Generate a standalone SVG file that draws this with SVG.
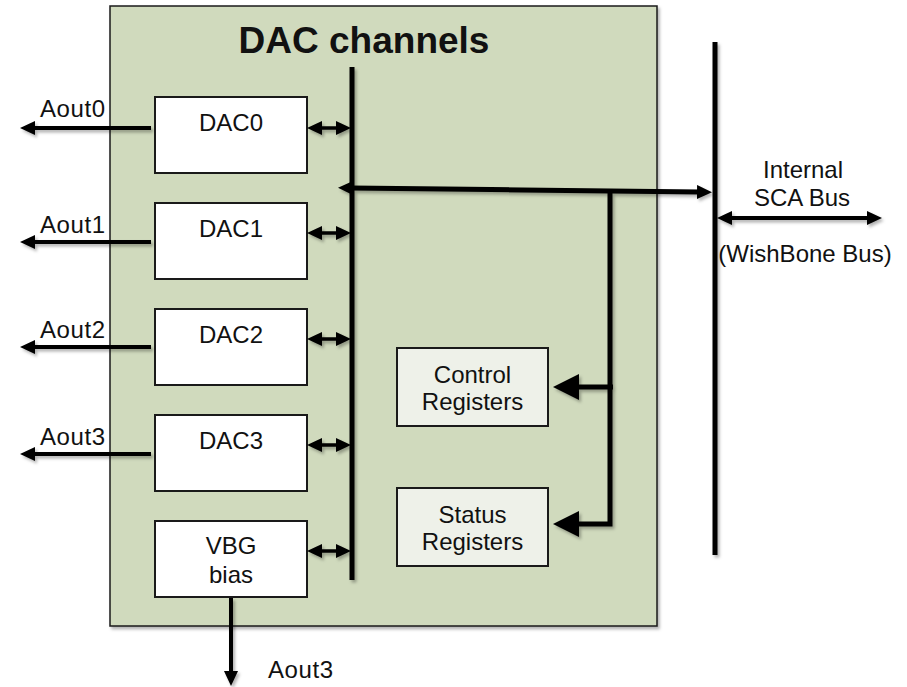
<svg xmlns="http://www.w3.org/2000/svg" width="907" height="687" viewBox="0 0 907 687">
  <defs>
    <style>
      .lbl { font-family: "Liberation Sans", Arial, sans-serif; font-size: 24px; fill: #111; }
      .mid { text-anchor: middle; }
      .title { font-family: "Liberation Sans", Arial, sans-serif; font-size: 37px; font-weight: bold; fill: #111; text-anchor: middle; }
      .dac { fill: #ffffff; stroke: #1a1a1a; stroke-width: 2; }
      .reg { fill: #eef1e9; stroke: #1a1a1a; stroke-width: 2; }
      .wire { fill: none; stroke: #000; stroke-width: 4; }
      .bus { fill: none; stroke: #000; stroke-width: 5; }
      .pair { fill: none; stroke: #000; stroke-width: 3.5; }
    </style>
    <filter id="shadow" x="-20%" y="-20%" width="140%" height="140%">
      <feDropShadow dx="2" dy="2.5" stdDeviation="1.6" flood-color="#000" flood-opacity="0.3"/>
    </filter>
    <marker id="tip" viewBox="0 0 15 14" refX="2" refY="7" markerWidth="15" markerHeight="14" markerUnits="userSpaceOnUse" orient="auto-start-reverse">
      <path d="M0,0 L15,7 L0,14 z" fill="#000"/>
    </marker>
    <marker id="tipBig" viewBox="0 0 26 26" refX="2" refY="13" markerWidth="26" markerHeight="26" markerUnits="userSpaceOnUse" orient="auto">
      <path d="M0,0 L26,13 L0,26 z" fill="#000"/>
    </marker>
  </defs>

  <rect width="907" height="687" fill="#ffffff"/>

  <!-- enclosing block -->
  <g id="dac-channels">
    <rect x="110" y="6" width="547" height="620" fill="#d0dabd" stroke="#1a1a1a" stroke-width="1.5" filter="url(#shadow)"/>
    <text class="title" x="364" y="53">DAC channels</text>
  </g>

  <!-- converters -->
  <g id="dac0">
    <rect class="dac" x="155" y="97" width="152" height="76"/>
    <text class="lbl mid" x="231" y="131">DAC0</text>
  </g>
  <g id="dac1">
    <rect class="dac" x="155" y="203" width="152" height="76"/>
    <text class="lbl mid" x="231" y="237">DAC1</text>
  </g>
  <g id="dac2">
    <rect class="dac" x="155" y="309" width="152" height="76"/>
    <text class="lbl mid" x="231" y="343">DAC2</text>
  </g>
  <g id="dac3">
    <rect class="dac" x="155" y="415" width="152" height="76"/>
    <text class="lbl mid" x="231" y="449">DAC3</text>
  </g>
  <g id="vbg-bias">
    <rect class="dac" x="155" y="521" width="152" height="76"/>
    <text class="lbl mid" x="231" y="554">VBG</text>
    <text class="lbl mid" x="231" y="583">bias</text>
  </g>

  <!-- register blocks -->
  <g id="control-registers">
    <rect class="reg" x="397" y="348" width="151" height="78"/>
    <text class="lbl mid" x="472.5" y="383">Control</text>
    <text class="lbl mid" x="472.5" y="410">Registers</text>
  </g>
  <g id="status-registers">
    <rect class="reg" x="397" y="488" width="151" height="78"/>
    <text class="lbl mid" x="472.5" y="523">Status</text>
    <text class="lbl mid" x="472.5" y="550">Registers</text>
  </g>

  <!-- external bus label -->
  <g id="sca-bus">
    <text class="lbl mid" x="803" y="178">Internal</text>
    <text class="lbl mid" x="802" y="206">SCA Bus</text>
    <text class="lbl mid" x="805" y="262">(WishBone Bus)</text>
  </g>

  <!-- output labels -->
  <g id="outputs">
    <text class="lbl" x="40" y="117" letter-spacing="0.6">Aout0</text>
    <text class="lbl" x="40" y="233" letter-spacing="0.6">Aout1</text>
    <text class="lbl" x="40" y="338" letter-spacing="0.6">Aout2</text>
    <text class="lbl" x="40" y="445" letter-spacing="0.6">Aout3</text>
    <text class="lbl" x="268" y="678" letter-spacing="0.6">Aout3</text>
  </g>

  <g id="connectors" filter="url(#shadow)">
    <!-- local bus and WishBone bus -->
    <line class="bus" x1="352" y1="67" x2="352" y2="580"/>
    <line class="bus" x1="715" y1="42" x2="715" y2="555"/>
    <line class="bus" x1="351" y1="188" x2="699" y2="192" marker-start="url(#tip)" marker-end="url(#tip)"/>
    <line class="wire" x1="730" y1="218" x2="869" y2="218" marker-start="url(#tip)" marker-end="url(#tip)"/>

    <!-- register branch -->
    <path class="bus" d="M610,190 V524 H577" marker-end="url(#tipBig)"/>
    <path class="bus" d="M613,387 H577" marker-end="url(#tipBig)"/>

    <!-- converter links to local bus -->
    <line class="pair" x1="320" y1="128" x2="338" y2="128" marker-start="url(#tip)" marker-end="url(#tip)"/>
    <line class="pair" x1="320" y1="233" x2="338" y2="233" marker-start="url(#tip)" marker-end="url(#tip)"/>
    <line class="pair" x1="320" y1="339" x2="338" y2="339" marker-start="url(#tip)" marker-end="url(#tip)"/>
    <line class="pair" x1="320" y1="445" x2="338" y2="445" marker-start="url(#tip)" marker-end="url(#tip)"/>
    <line class="pair" x1="320" y1="551" x2="338" y2="551" marker-start="url(#tip)" marker-end="url(#tip)"/>

    <!-- analog outputs -->
    <line class="wire" x1="151" y1="128" x2="33" y2="128" marker-end="url(#tip)"/>
    <line class="wire" x1="151" y1="242" x2="33" y2="242" marker-end="url(#tip)"/>
    <line class="wire" x1="151" y1="347" x2="33" y2="347" marker-end="url(#tip)"/>
    <line class="wire" x1="151" y1="454" x2="33" y2="454" marker-end="url(#tip)"/>
    <line class="wire" x1="231" y1="598" x2="231" y2="673" marker-end="url(#tip)"/>
  </g>
</svg>
